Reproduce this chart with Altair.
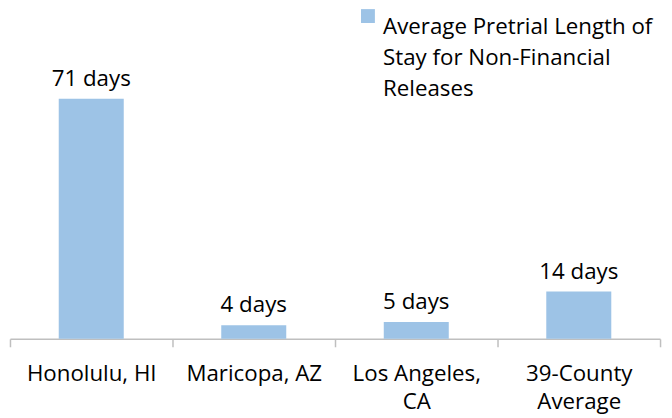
import altair as alt
import pandas as pd

categories = ["Honolulu, HI", "Maricopa, AZ", "Los Angeles,\nCA", "39-County\nAverage"]
values = [71, 4, 5, 14]
value_labels = ["71 days", "4 days", "5 days", "14 days"]
series_name = "Average Pretrial Length of\nStay for Non-Financial\nReleases"

df = pd.DataFrame({
    "category": categories,
    "value": values,
    "label": value_labels,
    "series": [series_name] * len(categories),
})

FONT = "Open Sans"
BLUE = "#9DC3E6"
FS = 22.5

base = alt.Chart(df).encode(
    x=alt.X(
        "category:N",
        sort=None,
        scale=alt.Scale(paddingInner=0, paddingOuter=0),
        axis=alt.Axis(
            title=None,
            labelAngle=0,
            labelExpr="split(datum.label, '\\n')",
            labelFont=FONT,
            labelFontSize=FS,
            labelColor="#000000",
            labelLineHeight=28,
            labelBaseline="top",
            labelPadding=16,
            labelLimit=300,
            tickBand="extent",
            tickSize=8,
            tickColor="#BFBFBF",
            tickWidth=1.5,
            domainColor="#BFBFBF",
            domainWidth=1.5,
        ),
    ),
    y=alt.Y("value:Q", scale=alt.Scale(domain=[0, 80]), axis=None),
)

bars = base.mark_bar(width=alt.RelativeBandSize(0.4)).encode(
    color=alt.Color(
        "series:N",
        scale=alt.Scale(range=[BLUE]),
        legend=alt.Legend(
            title=None,
            orient="none",
            legendX=350,
            legendY=-64,
            symbolType="square",
            symbolSize=196,
            symbolStrokeWidth=0,
            labelExpr="split(datum.label, '\\n')",
            labelFont=FONT,
            labelFontSize=FS,
            labelColor="#000000",
            labelLimit=400,
            labelBaseline="top",
            labelOffset=4,
            padding=0,
        ),
    )
)

text = base.mark_text(
    baseline="alphabetic", dy=-13, font=FONT, fontSize=FS, color="#000000"
).encode(text="label:N")

chart = (
    alt.layer(bars, text)
    .properties(
        width=656,
        height=273,
        autosize=alt.AutoSizeParams(type="none"),
        padding={"left": 2, "top": 59, "right": 4, "bottom": 78},
    )
    .configure(style={"guide-label": {"lineHeight": 31.5}})
    .configure_view(stroke=None)
)

chart.save("out.html", embed_options={"renderer": "svg", "actions": False})
